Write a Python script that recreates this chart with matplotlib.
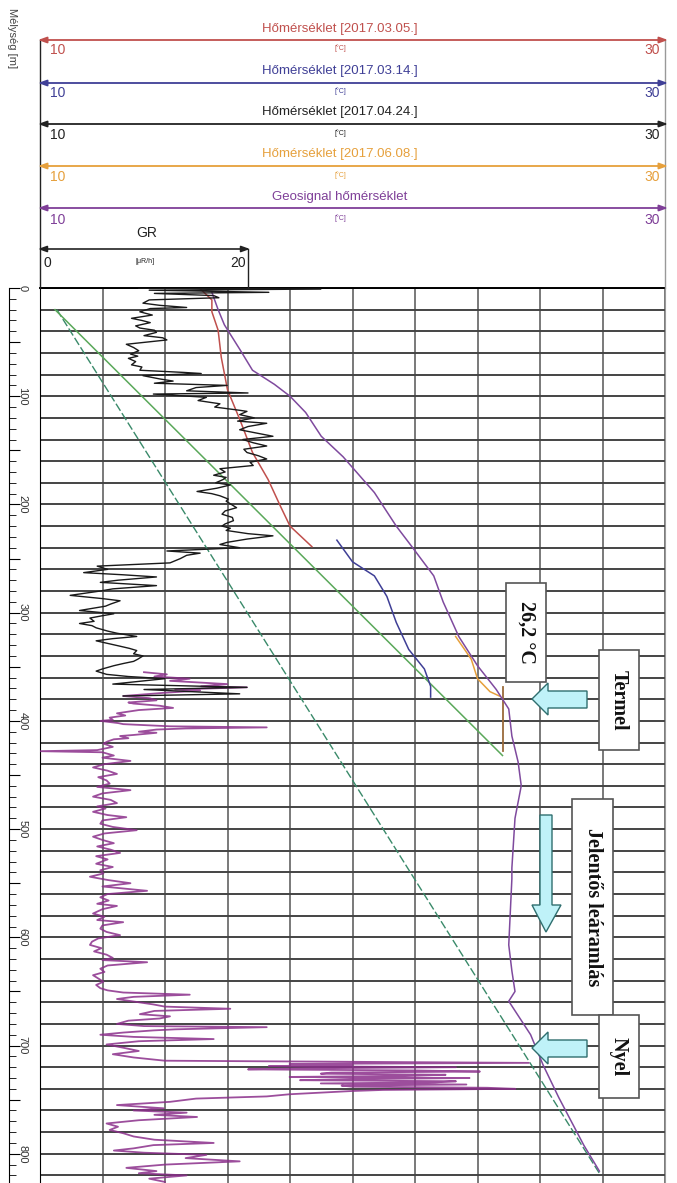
import numpy as np
import matplotlib
matplotlib.use("Agg")
import matplotlib.pyplot as plt
from matplotlib.patches import Rectangle, Polygon
from matplotlib.transforms import blended_transform_factory

W, H = 677, 1183
TOP = 288          # pixel row of depth 0
DMAX = 827         # depth at bottom edge of the picture

# ---- temperature logs (depth m, temperature C) ----
red_d = [0, 11, 22, 39, 64, 94, 122, 152, 177, 202, 220, 239]
red_t = [15.1, 15.5, 15.5, 15.7, 15.8, 16.0, 16.4, 16.8, 17.3, 17.7, 18.0, 18.7]

blue_d = [233, 253, 266, 285, 309, 334, 352, 368, 378]
blue_t = [19.5, 20.0, 20.7, 21.1, 21.4, 21.8, 22.3, 22.5, 22.5]

orange_d = [322, 343, 361, 373, 377]
orange_t = [23.3, 23.8, 24.0, 24.4, 24.7]

apr_d = [369, 428]
apr_t = [24.8, 24.8]

geo_d = [4, 20, 34, 57, 76, 89, 100, 115, 137, 156, 189, 220, 239, 266, 290, 322,
         349, 371, 389, 414, 438, 460, 490, 536, 546, 607, 631, 650, 659, 690, 718,
         748, 792, 816]
geo_t = [15.5, 15.7, 15.9, 16.4, 16.8, 17.5, 18.0, 18.5, 19.0, 19.7, 20.7, 21.4, 21.9,
         22.6, 22.9, 23.4, 24.0, 24.6, 25.0, 25.1, 25.3, 25.4, 25.2, 25.1, 25.1, 25.0,
         25.1, 25.2, 25.0, 25.7, 26.1, 26.6, 27.4, 27.9]

grad1_d = [20, 432]
grad1_t = [10.48, 24.8]
grad2_d = [20, 818]
grad2_t = [10.54, 27.9]

# ---- GR logs (depth m, uR/h) ----
gr1_d = [0, 1, 2, 4, 5, 7, 9, 11, 14, 16, 18, 19, 22, 25, 28, 30, 32, 35, 37, 39, 41, 44,
         46, 48, 50, 52, 55, 58, 61, 63, 65, 68, 71, 73, 76, 78, 79, 81, 84, 86, 88, 90,
         92, 95, 97, 98, 101, 104, 107, 110, 113, 114, 117, 120, 123, 125, 128, 131, 134,
         137, 140, 143, 146, 149, 152, 155, 158, 161, 164, 167, 170, 173, 175, 177, 180,
         182, 185, 188, 190, 192, 195, 197, 200, 203, 206, 209, 212, 215, 218, 220, 222,
         224, 227, 229, 232, 235, 237, 240, 242, 243, 245, 247, 250, 254, 257, 260, 263,
         265, 267, 270, 272, 275, 278, 280, 284, 287, 289, 292, 294, 298, 301, 303, 305,
         308, 310, 312, 314, 317, 319, 322, 324, 326, 329, 331, 333, 335, 338, 340, 343,
         345, 347, 349, 352, 354, 357, 359, 361, 364, 366, 369, 371, 375, 377]
gr1_v = [9.5, 27.0, 10.5, 22.0, 11.0, 16.7, 17.2, 10.5, 9.9, 11.5, 14.1, 10.6, 9.6, 10.8,
         8.8, 9.8, 10.6, 9.2, 9.6, 11.0, 11.2, 10.0, 11.8, 12.2, 10.2, 8.3, 9.0, 9.5, 8.7,
         9.4, 8.5, 9.2, 8.8, 9.8, 9.6, 13.8, 15.5, 9.9, 11.5, 12.8, 11.0, 18.0, 15.0, 14.1,
         20.0, 10.9, 16.0, 15.2, 17.3, 16.8, 19.2, 19.9, 19.2, 20.6, 19.0, 21.8, 20.0, 19.2,
         20.8, 22.4, 19.5, 20.5, 21.8, 19.6, 19.9, 21.0, 21.8, 20.2, 20.5, 17.3, 17.8, 16.7,
         17.9, 17.6, 16.9, 18.3, 17.0, 15.1, 16.5, 17.3, 18.1, 17.9, 18.4, 18.9, 17.8, 17.5,
         18.5, 18.6, 17.8, 17.5, 18.3, 17.9, 20.0, 22.4, 19.9, 18.0, 17.3, 19.2, 14.5, 12.2,
         15.4, 14.1, 13.5, 12.5, 5.5, 6.5, 4.2, 8.0, 11.2, 7.5, 5.8, 11.2, 7.0, 5.8, 2.9,
         6.0, 7.7, 6.8, 6.3, 3.8, 7.1, 5.9, 4.8, 5.2, 3.8, 5.0, 5.4, 6.5, 7.4, 9.3, 7.0,
         5.4, 6.8, 7.7, 8.6, 9.3, 9.0, 9.9, 9.4, 9.0, 8.0, 7.1, 6.0, 5.4, 6.4, 8.5, 12.0,
         9.0, 7.0, 19.9, 10.0, 19.2, 8.0]

gr2_d = [355, 357, 359, 361, 363, 366, 368, 369, 371, 372, 374, 377, 379, 381, 383, 384,
         386, 388, 390, 393, 395, 397, 399, 400, 402, 403, 405, 406, 407, 408, 410, 411,
         413, 414, 416, 417, 419, 421, 424, 427, 428, 429, 432, 434, 437, 440, 443, 446,
         449, 452, 455, 458, 461, 464, 467, 470, 473, 476, 479, 481, 484, 487, 489, 492,
         495, 498, 501, 504, 507, 510, 513, 516, 519, 522, 525, 528, 532, 535, 538, 541,
         544, 547, 550, 553, 557, 560, 563, 566, 569, 571, 574, 578, 581, 584, 586, 589,
         592, 595, 598, 601, 604, 607, 610, 613, 616, 619, 621, 623, 626, 629, 632, 635,
         638, 641, 644, 647, 649, 651, 653, 655, 657, 660, 662, 664, 666, 668, 671, 673,
         675, 677, 680, 682, 683, 685, 686, 688, 690, 692, 694, 696, 699, 702, 705, 708,
         711, 714, 716, 717, 718, 719, 720, 721, 722, 723, 724, 725, 726, 727, 728, 729,
         730, 731, 732, 733, 734, 735, 736, 737, 738, 739, 740, 741, 742, 745, 747, 749,
         752, 755, 758, 760, 762, 764, 766, 769, 772, 775, 778, 781, 784, 787, 790, 792,
         795, 797, 799, 801, 804, 807, 810, 813, 816, 818, 820, 823, 826]
gr2_v = [10.0, 12.2, 11.0, 14.4, 12.5, 18.0, 15.5, 19.9, 13.0, 15.4, 12.0, 8.0, 10.5, 11.2,
         8.5, 9.0, 11.5, 12.8, 9.5, 7.4, 8.2, 6.7, 7.0, 5.8, 7.5, 8.0, 12.5, 21.8, 14.0,
         11.2, 9.5, 11.2, 9.0, 7.7, 8.5, 7.1, 6.5, 6.1, 7.0, 5.5, 0.0, 6.0, 7.1, 6.0, 8.7,
         6.2, 5.1, 6.5, 7.4, 5.6, 6.4, 6.7, 5.5, 8.7, 6.0, 5.1, 6.8, 7.4, 5.5, 6.3, 5.1,
         6.5, 8.3, 6.0, 5.8, 7.0, 9.3, 6.2, 5.1, 6.0, 7.1, 5.5, 6.8, 7.7, 5.4, 6.5, 5.4,
         7.0, 5.8, 6.1, 4.8, 6.5, 8.7, 6.0, 10.3, 6.5, 5.8, 6.6, 5.5, 7.4, 6.0, 5.1, 6.2,
         5.5, 8.0, 6.0, 5.8, 6.4, 7.7, 5.6, 5.0, 4.8, 5.9, 5.2, 6.4, 7.0, 6.0, 10.3, 6.5,
         5.8, 6.2, 5.1, 5.6, 6.1, 5.4, 5.8, 6.5, 8.0, 14.4, 9.0, 7.4, 9.5, 10.9, 12.0, 18.3,
         11.0, 9.6, 12.5, 11.5, 8.5, 7.4, 10.0, 21.8, 13.0, 10.9, 8.0, 5.8, 9.0, 16.7, 9.5,
         6.4, 8.0, 9.5, 7.0, 9.0, 12.0, 47.0, 24.0, 30.0, 22.0, 40.0, 26.0, 20.0, 36.0, 42.3,
         28.0, 27.0, 39.0, 35.0, 24.0, 41.3, 30.0, 25.0, 40.0, 38.0, 27.0, 41.0, 29.0, 30.0,
         43.0, 45.7, 33.0, 30.0, 24.0, 21.8, 15.0, 12.5, 7.4, 11.9, 9.0, 14.1, 11.0, 15.1,
         9.5, 6.4, 7.5, 6.7, 8.0, 9.0, 11.0, 16.7, 10.9, 9.0, 7.1, 10.0, 16.0, 14.0, 19.2,
         12.0, 8.3, 11.2, 9.5, 14.1, 10.5, 12.0]

# ---- header scales ----
scale_titles = ["Hőmérséklet [2017.03.05.]", "Hőmérséklet [2017.03.14.]",
                "Hőmérséklet [2017.04.24.]", "Hőmérséklet [2017.06.08.]",
                "Geosignal hőmérséklet"]
scale_colors = ["#c0504d", "#3f3f96", "#222222", "#e6a03c", "#7f3f98"]
scale_min, scale_max = "10", "30"
gr_min, gr_max = "0", "20"

SANS = ["Liberation Sans", "DejaVu Sans"]
SERIF = ["Liberation Serif", "DejaVu Serif"]

fig = plt.figure(figsize=(W / 100, H / 100), dpi=100)
L = 40 / W
WD = 625 / W
HT = (H - TOP) / H

ax = fig.add_axes([L, 0, WD, HT])
ax.set_xlim(10, 30)
ax.set_ylim(DMAX, 0)
ax.set_xticks(np.arange(10, 31, 2))
ax.set_yticks(np.arange(0, DMAX, 20))
ax.grid(True, axis="x", color="#555555", lw=1.1)
ax.grid(True, axis="y", color="#444444", lw=1.4)
ax.tick_params(length=0, labelleft=False, labelbottom=False)
ax.spines["bottom"].set_visible(False)
ax.spines["right"].set_color("#999999")
ax.spines["top"].set_linewidth(1.4)

ax.plot(grad2_t, grad2_d, color="#3a8a6a", lw=1.0, ls=(0, (6, 2)))
ax.plot(grad1_t, grad1_d, color="#5aa85a", lw=1.1)
ax.plot(red_t, red_d, color="#c0504d", lw=1.1)
ax.plot(blue_t, blue_d, color="#3f3f96", lw=1.1)
ax.plot(orange_t, orange_d, color="#e6a03c", lw=1.1)
ax.plot(apr_t, apr_d, color="#9a6a3a", lw=1.3)
ax.plot(geo_t, geo_d, color="#7f4a9e", lw=1.1)

axg = ax.twiny()
axg.set_xlim(0, 625 / 10.4)
axg.axis("off")
axg.plot(gr2_v, gr2_d, color="#8b2f8b", lw=1.3, alpha=0.85)
axg.plot(gr1_v, gr1_d, color="#1a1a1a", lw=1.0)

# depth track
axd = fig.add_axes([9 / W, 0, 28 / W, HT])
for s in ["top", "right", "bottom"]:
    axd.spines[s].set_visible(False)
axd.set_facecolor("none")
axd.set_ylim(DMAX, 0)
axd.set_xticks([])
axd.set_yticks(np.arange(0, DMAX, 50))
axd.set_yticks(np.arange(0, DMAX, 10), minor=True)
axd.tick_params(axis="y", which="major", direction="in", length=8, labelleft=False)
axd.tick_params(axis="y", which="minor", direction="in", length=5)
tr = blended_transform_factory(axd.transAxes, axd.transData)
for d in range(0, 801, 100):
    axd.text(0.48, d, str(d), transform=tr, rotation=270, ha="center", va="center",
             fontsize=8, color="#333333", family=SANS)

# overlay in pixel coordinates for header and annotations
ov = fig.add_axes([0, 0, 1, 1], zorder=5)
ov.set_xlim(0, W)
ov.set_ylim(H, 0)
ov.axis("off")
ov.patch.set_alpha(0)

fig.text(12 / W, 1 - 38 / H, "Mélység [m]", rotation=270, ha="center", va="center",
         fontsize=8, color="#444444", family=SANS)

ov.plot([40, 40], [40, TOP], color="#222222", lw=1.0)
ov.plot([665, 665], [40, TOP], color="#999999", lw=1.0)

rows = [(29, 40, 50), (71, 83, 93), (112, 124, 135), (154, 166, 177), (197, 208, 220)]
for (ty, ly, ny), title, c in zip(rows, scale_titles, scale_colors):
    ov.text(340, ty, title, color=c, ha="center", va="center", fontsize=9.5, family=SANS)
    ov.annotate("", xy=(38, ly), xytext=(668, ly),
                arrowprops=dict(arrowstyle="<|-|>,head_length=0.5,head_width=0.18",
                                color=c, lw=1.3, shrinkA=0, shrinkB=0))
    ov.text(50, ny, scale_min, color=c, ha="left", va="center", fontsize=10, family=SANS)
    ov.text(660, ny, scale_max, color=c, ha="right", va="center", fontsize=10, family=SANS)
    ov.text(340, ny - 2, "[°C]", color=c, ha="center", va="center", fontsize=5, family=SANS)

ov.text(147, 233, "GR", color="#222222", ha="center", va="center", fontsize=10, family=SANS)
ov.annotate("", xy=(38, 249), xytext=(250, 249),
            arrowprops=dict(arrowstyle="<|-|>,head_length=0.5,head_width=0.18",
                            color="#222222", lw=1.2, shrinkA=0, shrinkB=0))
ov.plot([248, 248], [249, TOP], color="#222222", lw=1.0)
ov.text(43, 263, gr_min, color="#222222", ha="left", va="center", fontsize=10, family=SANS)
ov.text(246, 263, gr_max, color="#222222", ha="right", va="center", fontsize=10, family=SANS)
ov.text(145, 261, "[μR/h]", color="#222222", ha="center", va="center", fontsize=5, family=SANS)

# annotation boxes
boxes = [((506, 583, 40, 99), "26,2 °C"), ((599, 650, 40, 100), "Termel"),
         ((572, 799, 41, 216), "Jelentős leáramlás"), ((599, 1015, 40, 83), "Nyel")]
for (bx, by, bw, bh), txt in boxes:
    ov.add_patch(Rectangle((bx, by), bw, bh, facecolor="white", edgecolor="#555555", lw=1.2))
    ov.text(bx + bw / 2, by + bh / 2, txt, rotation=270, ha="center", va="center",
            fontsize=14.5, fontweight="bold", family=SERIF, color="#111111")

ac = "#bff2f8"
ae = "#2f6f6f"
# left pointing arrows (Termel, Nyel)
for cy in (699, 1048):
    ov.add_patch(Polygon([(532, cy), (548, cy - 16), (548, cy - 8), (587, cy - 8),
                          (587, cy + 9), (548, cy + 9), (548, cy + 16)],
                         closed=True, facecolor=ac, edgecolor=ae, lw=1.0))
# down arrow
ov.add_patch(Polygon([(540, 815), (552, 815), (552, 905), (561, 905), (546, 932),
                      (532, 905), (540, 905)],
                     closed=True, facecolor=ac, edgecolor=ae, lw=1.0))

fig.savefig("out.png", dpi=100)
